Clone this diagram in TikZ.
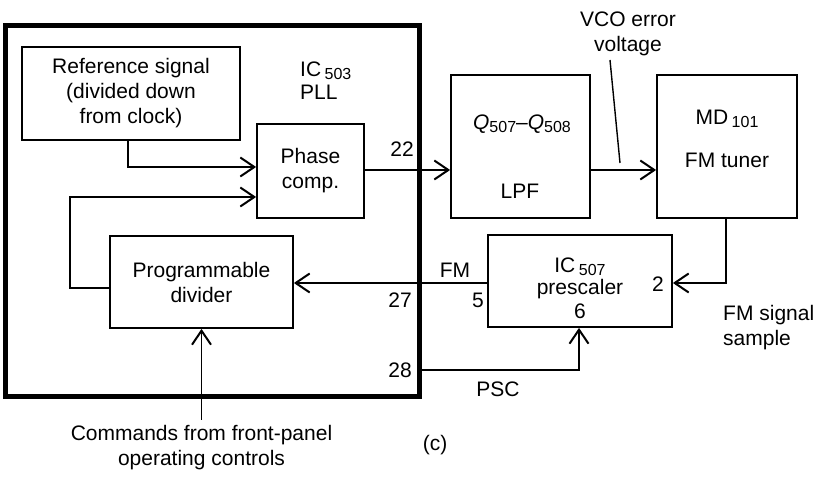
\documentclass[tikz,border=0pt]{standalone}
\usepackage{fontspec}
\setmainfont{Liberation Sans}
\usetikzlibrary{arrows.meta}
\newcommand\sbs[1]{\raisebox{-2.5pt}{\fontsize{16}{16}\selectfont #1}}
\begin{document}
\begin{tikzpicture}[x=1pt,y=-1pt,
  font=\fontsize{21}{25}\selectfont,
  box/.style={draw,line width=1.8pt,inner sep=0pt},
  wire/.style={line width=1.8pt},
  arr/.style={wire,-{Straight Barb[length=14pt,width=19pt,line width=2pt]}},
  lbl/.style={anchor=base,inner sep=0pt},
  lblw/.style={anchor=base west,inner sep=0pt}]
\useasboundingbox (0,0) rectangle (820,478);
% outer PLL IC box
\node[draw,line width=4.5pt,inner sep=0pt,minimum width=414pt,minimum height=371pt] (pll) at (212.4,211.1) {};
% blocks
\node[box,minimum width=218pt,minimum height=93pt,align=center] (ref) at (131,93.5) {Reference signal\\(divided down\\from clock)};
\node[box,minimum width=107pt,minimum height=94pt,align=center] (phase) at (310.5,171) {Phase\\comp.};
\node[box,minimum width=183pt,minimum height=92pt,align=center] (prog) at (201.5,282) {Programmable\\divider};
\node[box,minimum width=139pt,minimum height=143pt] (lpf) at (520.5,146.5) {};
\node[box,minimum width=140pt,minimum height=143pt] (tuner) at (727,146.5) {};
\node[box,minimum width=184pt,minimum height=92pt] (pre) at (580,281) {};
% labels inside blocks
\node[lbl] (lq) at (522,130) {\textit{Q}\sbs{507}--\textit{Q}\sbs{508}};
\node[lbl] (llpf) at (520,199) {LPF};
\node[lbl] (lmd) at (727,125) {MD\,\sbs{101}};
\node[lbl] (ltun) at (727,168) {FM tuner};
\node[lbl] (lic7) at (580,273) {IC\,\sbs{507}};
\node[lbl] (lpre) at (580,295) {prescaler};
\node[lbl] (l6) at (580,319) {6};
\node[lbl] (l2) at (658,292) {2};
\node[lbl] (l5) at (478,308) {5};
% other labels
\node[lblw] (lic3) at (300,77) {IC\,\sbs{503}};
\node[lblw] (lpll) at (300,100) {PLL};
\node[lbl] (l22) at (402,157) {22};
\node[lbl] (l27) at (400,308) {27};
\node[lbl] (l28) at (400,378) {28};
\node[lbl] (lfm) at (455,278) {FM};
\node[lbl] (lpsc) at (498,397) {PSC};
\node[lbl] (lc) at (435,450) {(c)};
\node[lbl,align=center] (vco) at (628,52) {VCO error\\voltage};
\node[lblw,align=left] (fms) at (723,346) {FM signal\\sample};
\node[anchor=north,inner sep=0pt,align=center] (cmd) at (201.5,425) {Commands from front-panel\\operating controls};
% connectors
\draw[arr] (ref.south -| 128,0) |- (phase.west |- 0,167);
\draw[arr] (prog.west |- 0,288) -| (70,197) -- (phase.west |- 0,197);
\draw[arr] (phase.east |- 0,170) -- (lpf.west |- 0,170);
\draw[arr] (lpf.east |- 0,170) -- (tuner.west |- 0,170);
\draw[arr] (tuner.south -| 726,0) |- (pre.east |- 0,283);
\draw[arr] (pre.west |- 0,283) -- (prog.east |- 0,283);
\draw[arr] (pll.east |- 0,370) -| (pre.south -| 579,0);
\draw[arr] ([yshift=5pt]cmd.north) -- (prog.south);
\coordinate (vp1) at (610,60);
\coordinate (vp2) at (620,163);
\draw[line width=1.4pt] (vp1) -- (vp2);
\end{tikzpicture}
\end{document}
